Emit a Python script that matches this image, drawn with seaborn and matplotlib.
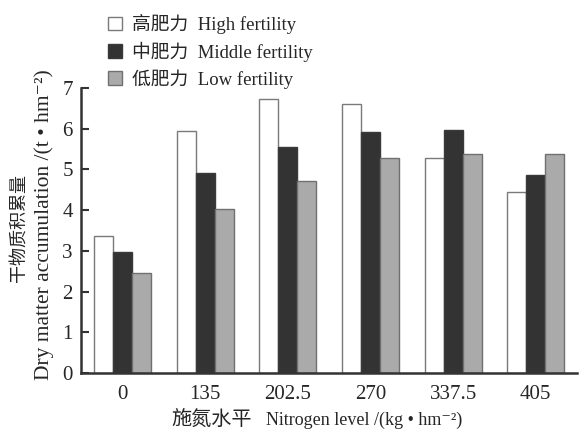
import numpy as np
import pandas as pd
import seaborn as sns
import matplotlib.pyplot as plt
from matplotlib.ticker import FixedLocator

# data
levels = ['0', '135', '202.5', '270', '337.5', '405']
fertility = ['高肥力  High fertility', '中肥力  Middle fertility', '低肥力  Low fertility']
high = [3.37, 5.93, 6.72, 6.60, 5.27, 4.44]
middle = [2.98, 4.92, 5.55, 5.92, 5.96, 4.85]
low = [2.45, 4.02, 4.71, 5.28, 5.37, 5.37]

face_colors = ['#ffffff', '#333333', '#aaaaaa']
edge_colors = ['#7a7a7a', '#3a3a3a', '#707070']

df = pd.DataFrame({
    'level': levels * 3,
    'value': high + middle + low,
    'fertility': [fertility[0]] * 6 + [fertility[1]] * 6 + [fertility[2]] * 6,
})

sns.set_style('white')
fonts = ['Liberation Serif', 'Noto Sans CJK SC', 'DejaVu Sans']
plt.rcParams['font.family'] = fonts

fig = plt.figure(figsize=(5.8, 4.3), dpi=100)
ax = fig.add_axes([0.14, 0.1326, 0.855, 0.663])

sns.barplot(data=df, x='level', y='value', hue='fertility', order=levels,
            hue_order=fertility, palette=face_colors, width=0.69, gap=0,
            saturation=1, legend=False, ax=ax)

for cont, ec in zip(ax.containers, edge_colors):
    for bar in cont:
        bar.set_edgecolor(ec)
        bar.set_linewidth(1.0)

ax.set_xlim(-0.5, 5.5)
ax.set_ylim(0, 7)
ax.set_yticks(range(8))

# ticks: none at the labels, small inward ticks between groups
ax.tick_params(axis='x', which='major', length=0, labelsize=15, pad=8.5)
ax.xaxis.set_minor_locator(FixedLocator(np.arange(-0.5, 6, 1)))
ax.tick_params(axis='x', which='minor', direction='in', length=5, width=1.5,
               color='#333333')
ax.tick_params(axis='y', direction='in', length=6, width=1.5, labelsize=15,
               color='#333333', pad=6, left=True)

for side in ['top', 'right']:
    ax.spines[side].set_visible(False)
for side in ['left', 'bottom']:
    ax.spines[side].set_linewidth(1.8)
    ax.spines[side].set_color('#333333')

ax.set_xlabel('')
ax.set_ylabel('')
fig.text(171 / 580, 1 - 425 / 430, '施氮水平', fontsize=14.5,
         ha='left', va='baseline')
fig.text(266 / 580, 1 - 425 / 430, 'Nitrogen level /(kg • hm⁻²)',
         fontsize=13, ha='left', va='baseline')
fig.text(20 / 580, 1 - 228 / 430, '干物质积累量', fontsize=13,
         rotation=90, ha='center', va='center')
fig.text(44 / 580, 1 - 225 / 430, 'Dry matter accumulation /(t • hm⁻²)',
         fontsize=15.5, rotation=90, ha='center', va='center')

handles = list(ax.containers)
fig.legend(handles, fertility, loc='upper left', bbox_to_anchor=(0.173, 0.985),
           frameon=False, fontsize=13.5, handlelength=0.75, handleheight=0.75,
           handletextpad=0.55, labelspacing=0.4, borderaxespad=0)

fig.savefig('out.png', dpi=100)
